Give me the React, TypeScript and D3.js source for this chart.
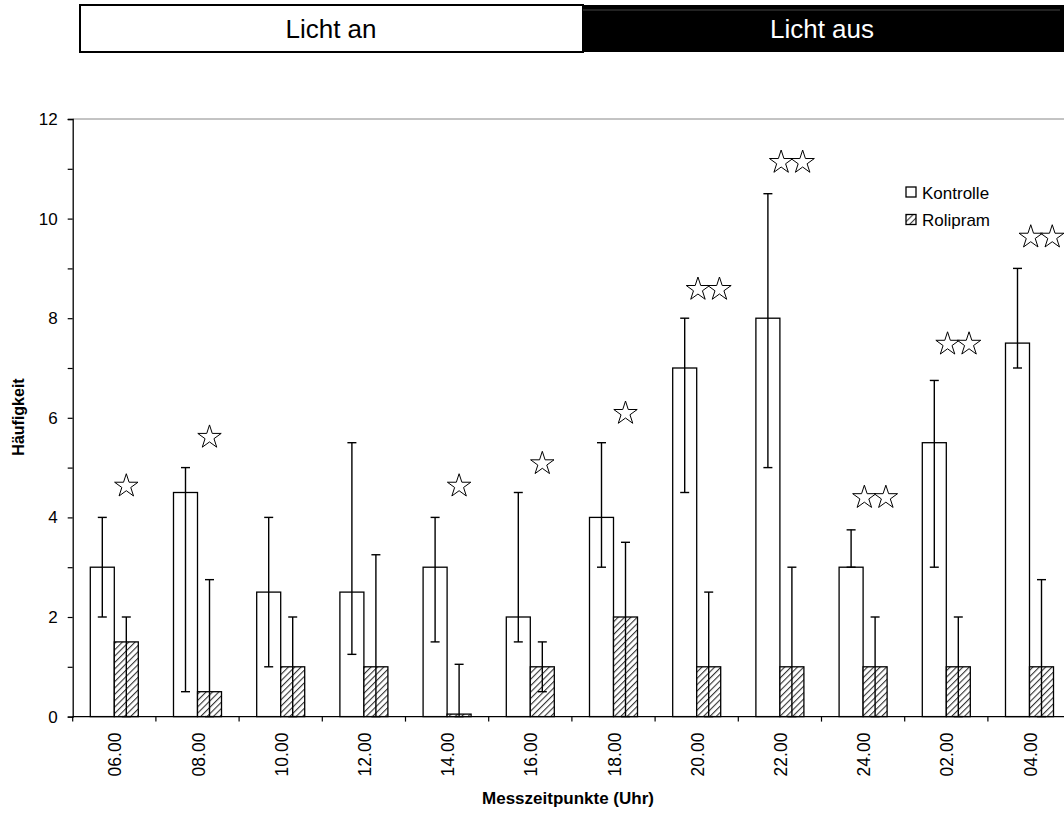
import { useEffect, useRef } from 'react';
import { axisLeft, range, scaleBand, scaleLinear, select, symbol, symbolStar } from 'd3';

const times = ['06.00', '08.00', '10.00', '12.00', '14.00', '16.00', '18.00', '20.00', '22.00', '24.00', '02.00', '04.00'];
const kontrolle = [3, 4.5, 2.5, 2.5, 3, 2, 4, 7, 8, 3, 5.5, 7.5];
const kontrolleLow = [2, 0.5, 1, 1.25, 1.5, 1.5, 3, 4.5, 5, 3, 3, 7];
const kontrolleHigh = [4, 5, 4, 5.5, 4, 4.5, 5.5, 8, 10.5, 3.75, 6.75, 9];
const rolipram = [1.5, 0.5, 1, 1, 0.05, 1, 2, 1, 1, 1, 1, 1];
const rolipramLow = [0, 0, 0, 0, 0, 0.5, 0, 0, 0, 0, 0, 0];
const rolipramHigh = [2, 2.75, 2, 3.25, 1.05, 1.5, 3.5, 2.5, 3, 2, 2, 2.75];
// significance stars: count and height (in data units)
const starCount = [1, 1, 0, 0, 1, 1, 1, 2, 2, 2, 2, 2];
const starLevel = [4.63, 5.61, 0, 0, 4.63, 5.08, 6.09, 8.58, 11.13, 4.4, 7.48, 9.63];
const series = ['Kontrolle', 'Rolipram'];

const FONT = '"Liberation Sans", Arial, sans-serif';

export default function App() {
    const yRef = useRef<SVGGElement>(null);

    const left = 72.7;
    const step = 83.2;
    const x = scaleBand().domain(times).range([left, left + step * times.length]).padding(0);
    const x1 = scaleBand().domain(series).range([0, x.bandwidth()]).paddingInner(0).paddingOuter(0.733);
    const y = scaleLinear().domain([0, 12]).range([716.6, 119]);
    const bw = x1.bandwidth();

    useEffect(() => {
        const g = select(yRef.current);
        g.attr('transform', `translate(${left},0)`)
            .call(axisLeft(y).tickValues(range(0, 13)).tickSize(5).tickPadding(10)
                .tickFormat((d: any) => (d % 2 === 0 ? String(d) : '')) as any);
        g.select('.domain').attr('stroke', '#000').attr('stroke-width', 1.3);
        g.selectAll('line').attr('stroke', '#000').attr('stroke-width', 1.2);
        g.selectAll('text').attr('font-family', FONT).attr('font-size', 17).attr('fill', '#000');
    }, []);

    const star = symbol().type(symbolStar).size(170)();

    const errBar = (cx: number, lo: number, hi: number, key: string) => (
        <g key={key} stroke="#000" strokeWidth={1.4}>
            <line x1={cx} x2={cx} y1={y(lo)} y2={y(hi)} />
            <line x1={cx - 4.5} x2={cx + 4.5} y1={y(hi)} y2={y(hi)} />
            <line x1={cx - 4.5} x2={cx + 4.5} y1={y(lo)} y2={y(lo)} />
        </g>
    );

    return (
        <svg width={1064} height={813} style={{ position: 'absolute', left: 0, top: 0, background: '#fff' }}>
            <defs>
                <pattern id="hatch" patternUnits="userSpaceOnUse" width={4.5} height={4.5} patternTransform="rotate(45)">
                    <rect width={4.5} height={4.5} fill="#fff" />
                    <line x1={0} y1={0} x2={0} y2={4.5} stroke="#333" strokeWidth={2.2} />
                </pattern>
            </defs>

            {/* light / dark banner */}
            <rect x={80} y={5} width={503} height={47} fill="#fff" stroke="#000" strokeWidth={2} />
            <rect x={583} y={5} width={481} height={47} fill="#000" />
            <line x1={583} x2={1060} y1={10} y2={10} stroke="#555" strokeWidth={0.8} />
            <text x={331} y={38} textAnchor="middle" fontFamily={FONT} fontSize={26} fill="#000">Licht an</text>
            <text x={822} y={38} textAnchor="middle" fontFamily={FONT} fontSize={26} fill="#fff">Licht aus</text>

            {/* plot area top border */}
            <line x1={left} x2={1064} y1={y(12)} y2={y(12)} stroke="#888" strokeWidth={1} />

            {times.map((t, i) => {
                const gx = x(t) as number;
                const kx = gx + (x1('Kontrolle') as number);
                const rx = gx + (x1('Rolipram') as number);
                return (
                    <g key={t}>
                        <rect x={kx} y={y(kontrolle[i])} width={bw} height={y(0) - y(kontrolle[i])}
                            fill="#fff" stroke="#000" strokeWidth={1.3} />
                        <rect x={rx} y={y(rolipram[i])} width={bw} height={y(0) - y(rolipram[i])}
                            fill="url(#hatch)" stroke="#000" strokeWidth={1.3} />
                        {errBar(kx + bw / 2, kontrolleLow[i], kontrolleHigh[i], 'k')}
                        {errBar(rx + bw / 2, rolipramLow[i], rolipramHigh[i], 'r')}
                        {range(starCount[i]).map(j => {
                            const off = (j - (starCount[i] - 1) / 2) * 21.5;
                            return (
                                <path key={j} d={star as string}
                                    transform={`translate(${rx + bw / 2 + off},${y(starLevel[i])})`}
                                    fill="#fff" stroke="#000" strokeWidth={1} />
                            );
                        })}
                    </g>
                );
            })}

            <g ref={yRef}></g>

            {/* x axis */}
            <line x1={left} x2={1064} y1={y(0)} y2={y(0)} stroke="#000" strokeWidth={1.3} />
            {range(times.length + 1).map(i => (
                <line key={i} x1={left + i * step} x2={left + i * step} y1={y(0)} y2={y(0) + 5}
                    stroke="#000" strokeWidth={1.2} />
            ))}
            {times.map(t => (
                <text key={t} transform={`translate(${(x(t) as number) + x.bandwidth() / 2 + 1},${y(0) + 16}) rotate(-90)`}
                    textAnchor="end" dy="0.35em" fontFamily={FONT} fontSize={17.5} fill="#000">{t}</text>
            ))}

            <text x={568} y={804} textAnchor="middle" fontFamily={FONT} fontSize={17} fontWeight="bold">
                Messzeitpunkte (Uhr)
            </text>
            <text transform="translate(24,417) rotate(-90)" textAnchor="middle" fontFamily={FONT}
                fontSize={16} fontWeight="bold">Häufigkeit</text>

            {/* legend */}
            {series.map((s, i) => (
                <g key={s} transform={`translate(906,${187 + i * 27.5})`}>
                    <rect width={10} height={10} fill={i === 0 ? '#fff' : 'url(#hatch)'} stroke="#000" strokeWidth={1.3} />
                    <text x={16} y={11.5} fontFamily={FONT} fontSize={17}>{s}</text>
                </g>
            ))}
        </svg>
    );
}
